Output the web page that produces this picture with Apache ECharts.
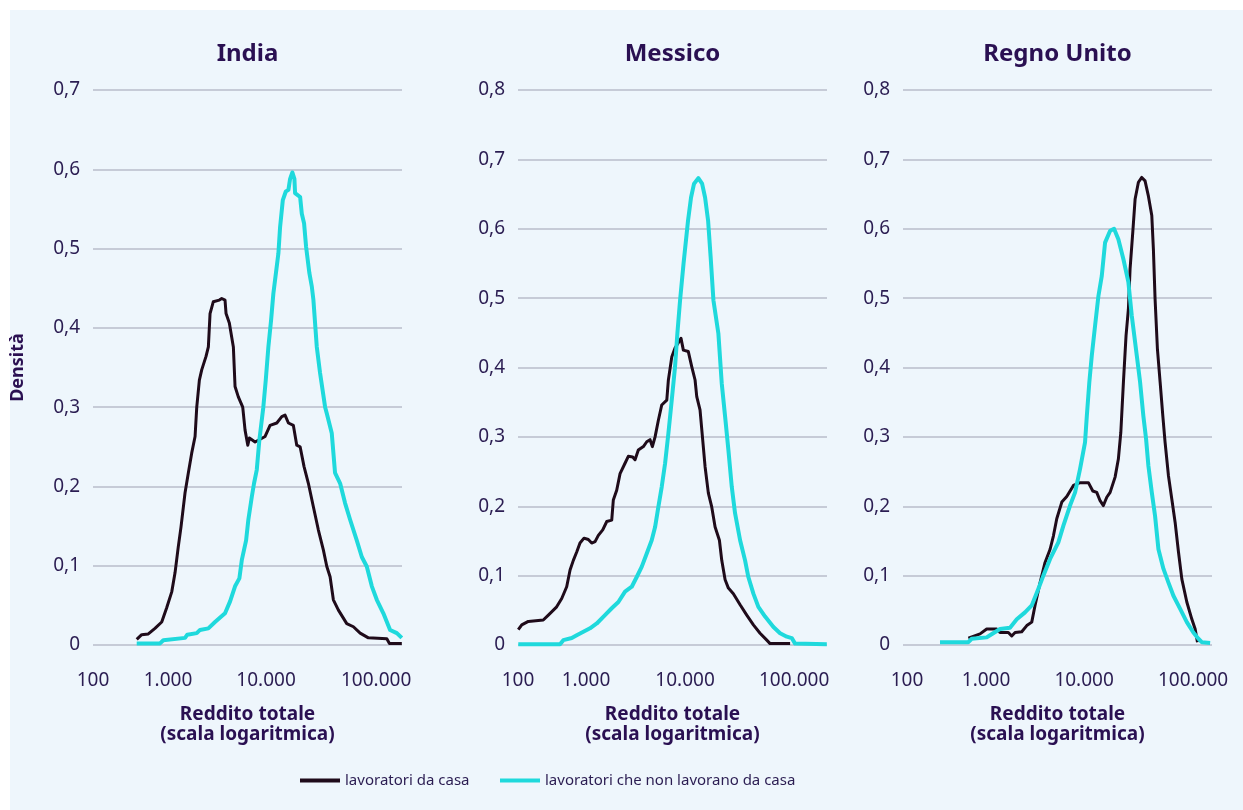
<!DOCTYPE html>
<html>
<head>
<meta charset="utf-8">
<script src="https://cdn.jsdelivr.net/npm/echarts@6/dist/echarts.min.js"></script>
<style>
    html, body { margin: 0; padding: 0; background: #fff; }
    #main {
        width: 1243px;
        height: 810px;
        background: linear-gradient(#eef6fc, #eef6fc) 10px 10px / 100% 100% no-repeat #fff;
    }
</style>
</head>
<body>
<div id="main"></div>
<script>
// x = log10(reddito), y = densità
const countries = ['India', 'Messico', 'Regno Unito'];
const seriesNames = ['lavoratori da casa', 'lavoratori che non lavorano da casa'];
const tickLabels = ['100', '1.000', '10.000', '100.000'];
const yMax = [0.7, 0.8, 0.8];

const indiaCasa = [
    [2.467, 0.007], [2.520, 0.013], [2.591, 0.014], [2.662, 0.021], [2.734, 0.029], [2.787, 0.047],
    [2.841, 0.067], [2.876, 0.091], [2.911, 0.124], [2.940, 0.149], [2.983, 0.192], [3.018, 0.217],
    [3.054, 0.242], [3.090, 0.263], [3.108, 0.300], [3.136, 0.334], [3.161, 0.347], [3.207, 0.364],
    [3.232, 0.376], [3.250, 0.418], [3.285, 0.433], [3.349, 0.435], [3.375, 0.437], [3.410, 0.435],
    [3.421, 0.418], [3.456, 0.406], [3.499, 0.376], [3.517, 0.326], [3.552, 0.313], [3.599, 0.300],
    [3.624, 0.271], [3.653, 0.252], [3.670, 0.261], [3.731, 0.256], [3.838, 0.263], [3.891, 0.277],
    [3.963, 0.280], [4.016, 0.288], [4.051, 0.290], [4.087, 0.280], [4.140, 0.277], [4.176, 0.252],
    [4.212, 0.250], [4.254, 0.225], [4.300, 0.204], [4.354, 0.174], [4.407, 0.145], [4.460, 0.120],
    [4.497, 0.099], [4.532, 0.086], [4.567, 0.057], [4.621, 0.044], [4.710, 0.027], [4.781, 0.023],
    [4.853, 0.015], [4.941, 0.009], [5.138, 0.008], [5.166, 0.002], [5.298, 0.002]
];
const indiaNonCasa = [
    [2.467, 0.002], [2.716, 0.002], [2.751, 0.006], [2.983, 0.009], [3.007, 0.013], [3.108, 0.015],
    [3.143, 0.019], [3.232, 0.021], [3.303, 0.029], [3.410, 0.040], [3.464, 0.055], [3.517, 0.074],
    [3.563, 0.084], [3.589, 0.107], [3.635, 0.132], [3.659, 0.158], [3.696, 0.187], [3.720, 0.204],
    [3.749, 0.221], [3.777, 0.259], [3.819, 0.300], [3.845, 0.334], [3.873, 0.376], [3.902, 0.410],
    [3.926, 0.443], [3.980, 0.494], [3.998, 0.527], [4.027, 0.561], [4.059, 0.572], [4.087, 0.574],
    [4.105, 0.588], [4.129, 0.596], [4.151, 0.588], [4.158, 0.570], [4.212, 0.565], [4.230, 0.544],
    [4.254, 0.532], [4.276, 0.502], [4.311, 0.469], [4.337, 0.452], [4.354, 0.435], [4.390, 0.376],
    [4.425, 0.343], [4.479, 0.300], [4.497, 0.292], [4.550, 0.267], [4.585, 0.217], [4.639, 0.204],
    [4.692, 0.179], [4.746, 0.158], [4.817, 0.132], [4.871, 0.111], [4.924, 0.099], [4.978, 0.074],
    [5.031, 0.057], [5.101, 0.040], [5.173, 0.019], [5.245, 0.015], [5.298, 0.009]
];
const messicoCasa = [
    [2.003, 0.022], [2.040, 0.029], [2.110, 0.034], [2.270, 0.036], [2.324, 0.043], [2.413, 0.055],
    [2.467, 0.067], [2.520, 0.084], [2.556, 0.108], [2.591, 0.122], [2.627, 0.134], [2.662, 0.147],
    [2.705, 0.154], [2.751, 0.152], [2.787, 0.147], [2.823, 0.149], [2.858, 0.158], [2.905, 0.166],
    [2.948, 0.178], [3.001, 0.180], [3.018, 0.209], [3.054, 0.223], [3.090, 0.247], [3.143, 0.262],
    [3.178, 0.272], [3.225, 0.271], [3.250, 0.267], [3.285, 0.281], [3.339, 0.286], [3.375, 0.293],
    [3.410, 0.296], [3.435, 0.286], [3.464, 0.300], [3.499, 0.324], [3.535, 0.346], [3.589, 0.353],
    [3.606, 0.382], [3.642, 0.415], [3.677, 0.428], [3.741, 0.442], [3.766, 0.425], [3.819, 0.423],
    [3.856, 0.401], [3.891, 0.382], [3.909, 0.358], [3.944, 0.339], [3.973, 0.295], [3.998, 0.257],
    [4.033, 0.219], [4.069, 0.199], [4.105, 0.170], [4.151, 0.151], [4.176, 0.122], [4.212, 0.094],
    [4.247, 0.082], [4.300, 0.074], [4.372, 0.058], [4.443, 0.043], [4.514, 0.029], [4.585, 0.017],
    [4.657, 0.007], [4.692, 0.002], [4.906, 0.002]
];
const messicoNonCasa = [
    [2.003, 0.001], [2.449, 0.001], [2.484, 0.007], [2.574, 0.010], [2.627, 0.014], [2.698, 0.019],
    [2.769, 0.024], [2.841, 0.031], [2.929, 0.043], [3.001, 0.053], [3.072, 0.062], [3.143, 0.077],
    [3.215, 0.084], [3.268, 0.098], [3.322, 0.113], [3.375, 0.132], [3.428, 0.151], [3.464, 0.170],
    [3.499, 0.199], [3.535, 0.228], [3.571, 0.262], [3.606, 0.305], [3.642, 0.353], [3.677, 0.401],
    [3.702, 0.449], [3.731, 0.497], [3.768, 0.550], [3.816, 0.612], [3.848, 0.645], [3.880, 0.665],
    [3.926, 0.673], [3.966, 0.665], [3.998, 0.645], [4.030, 0.612], [4.057, 0.560], [4.087, 0.497],
    [4.140, 0.449], [4.176, 0.377], [4.212, 0.329], [4.247, 0.281], [4.283, 0.228], [4.318, 0.190],
    [4.372, 0.151], [4.425, 0.122], [4.460, 0.098], [4.514, 0.074], [4.567, 0.055], [4.639, 0.041],
    [4.728, 0.026], [4.799, 0.017], [4.871, 0.012], [4.924, 0.010], [4.959, 0.002], [5.298, 0.001]
];
const ukCasa = [
    [2.698, 0.010], [2.823, 0.016], [2.894, 0.023], [3.001, 0.023], [3.036, 0.018], [3.125, 0.018],
    [3.161, 0.013], [3.197, 0.018], [3.268, 0.019], [3.322, 0.028], [3.375, 0.033], [3.410, 0.057],
    [3.464, 0.090], [3.517, 0.119], [3.571, 0.138], [3.606, 0.157], [3.642, 0.182], [3.696, 0.206],
    [3.749, 0.214], [3.820, 0.230], [3.891, 0.234], [3.980, 0.234], [4.027, 0.222], [4.069, 0.220],
    [4.105, 0.208], [4.140, 0.201], [4.176, 0.213], [4.212, 0.220], [4.265, 0.242], [4.300, 0.268],
    [4.326, 0.306], [4.354, 0.379], [4.382, 0.446], [4.407, 0.484], [4.425, 0.542], [4.454, 0.595],
    [4.479, 0.643], [4.514, 0.667], [4.550, 0.674], [4.585, 0.669], [4.621, 0.647], [4.657, 0.619],
    [4.674, 0.571], [4.692, 0.499], [4.717, 0.427], [4.746, 0.379], [4.775, 0.330], [4.799, 0.292],
    [4.835, 0.244], [4.871, 0.210], [4.906, 0.177], [4.942, 0.134], [4.978, 0.095], [5.031, 0.062],
    [5.085, 0.037], [5.120, 0.023], [5.145, 0.004]
];
const ukNonCasa = [
    [2.395, 0.004], [2.698, 0.004], [2.734, 0.009], [2.894, 0.011], [2.929, 0.014], [3.036, 0.023],
    [3.143, 0.025], [3.215, 0.037], [3.303, 0.047], [3.375, 0.057], [3.446, 0.081], [3.499, 0.100],
    [3.571, 0.124], [3.659, 0.148], [3.713, 0.172], [3.784, 0.201], [3.838, 0.220], [3.891, 0.254],
    [3.944, 0.292], [3.963, 0.330], [3.990, 0.379], [4.016, 0.417], [4.051, 0.460], [4.087, 0.503],
    [4.123, 0.532], [4.158, 0.580], [4.212, 0.597], [4.254, 0.600], [4.300, 0.585], [4.354, 0.556],
    [4.407, 0.523], [4.443, 0.475], [4.497, 0.417], [4.532, 0.379], [4.567, 0.330], [4.596, 0.297],
    [4.621, 0.258], [4.657, 0.220], [4.692, 0.186], [4.728, 0.138], [4.781, 0.110], [4.835, 0.090],
    [4.888, 0.071], [4.960, 0.052], [5.031, 0.033], [5.101, 0.018], [5.155, 0.009], [5.191, 0.004],
    [5.280, 0.003]
];

const casaData = [indiaCasa, messicoCasa, ukCasa];
const nonCasaData = [indiaNonCasa, messicoNonCasa, ukNonCasa];

// layout: the tick labels in the original sit where the text was typed, not on the decades
const gridLeft = [93, 518, 903];
const tickAt = [
    [2.0, 2.801, 3.848, 5.024],
    [2.0, 2.726, 3.784, 4.949],
    [2.043, 2.887, 3.934, 5.098]
];

const textColor = '#2b1d52';
const titleColor = '#2a1052';
const darkColor = '#1f0b1a';
const cyanColor = '#1fd9dc';
const font = '"Noto Sans", sans-serif';

let chart = echarts.init(document.getElementById('main'));

let grids = [], xAxes = [], yAxes = [], titles = [], series = [];

countries.forEach(function (name, i) {
    grids.push({left: gridLeft[i], top: 90, width: 309, height: 555});

    titles.push({
        text: name,
        left: gridLeft[i] + 149.5,
        top: 37,
        textAlign: 'center',
        textStyle: {fontFamily: font, fontSize: 24, fontWeight: 'bold', color: titleColor}
    });

    xAxes.push({
        gridIndex: i,
        type: 'value',
        min: 2,
        max: 5.3,
        name: 'Reddito totale\n(scala logaritmica)',
        nameLocation: 'middle',
        nameGap: 60,
        nameTextStyle: {fontFamily: font, fontSize: 19, fontWeight: 'bold', lineHeight: 20, color: titleColor},
        axisLine: {show: false},
        axisTick: {show: false},
        splitLine: {show: false},
        axisLabel: {
            customValues: tickAt[i],
            margin: 26,
            fontFamily: font,
            fontSize: 19,
            color: textColor,
            formatter: function (v) {
                return tickLabels[Math.round(v) - 2];
            }
        }
    });

    yAxes.push({
        gridIndex: i,
        type: 'value',
        min: 0,
        max: yMax[i],
        interval: 0.1,
        name: i === 0 ? 'Densità' : '',
        nameLocation: 'middle',
        nameGap: 66,
        nameRotate: 90,
        nameTextStyle: {fontFamily: font, fontSize: 18, fontWeight: 'bold', color: titleColor},
        axisLine: {show: false},
        axisTick: {show: false},
        splitLine: {lineStyle: {color: '#b8bccb', width: 1.5}},
        axisLabel: {
            margin: 13,
            fontFamily: font,
            fontSize: 19,
            color: textColor,
            formatter: function (v) {
                return v === 0 ? '0' : v.toFixed(1).replace('.', ',');
            }
        }
    });

    series.push({
        name: seriesNames[0],
        type: 'line',
        xAxisIndex: i,
        yAxisIndex: i,
        data: casaData[i],
        symbol: 'none',
        z: 2,
        itemStyle: {color: darkColor},
        lineStyle: {color: darkColor, width: 3, join: 'round'}
    });
    series.push({
        name: seriesNames[1],
        type: 'line',
        xAxisIndex: i,
        yAxisIndex: i,
        data: nonCasaData[i],
        symbol: 'none',
        z: 3,
        itemStyle: {color: cyanColor},
        lineStyle: {color: cyanColor, width: 4, join: 'round'}
    });
});

let legendText = {fontFamily: font, fontSize: 15, color: textColor};

let option = {
    animation: false,
    backgroundColor: 'transparent',
    title: titles,
    grid: grids,
    xAxis: xAxes,
    yAxis: yAxes,
    legend: [{
        data: [seriesNames[0]],
        left: 295,
        top: 768,
        icon: 'rect',
        itemWidth: 40,
        itemHeight: 4,
        itemGap: 7,
        textStyle: legendText
    }, {
        data: [seriesNames[1]],
        left: 495,
        top: 768,
        icon: 'rect',
        itemWidth: 40,
        itemHeight: 4,
        textStyle: legendText
    }],
    series: series
};

chart.setOption(option);
</script>
</body>
</html>
